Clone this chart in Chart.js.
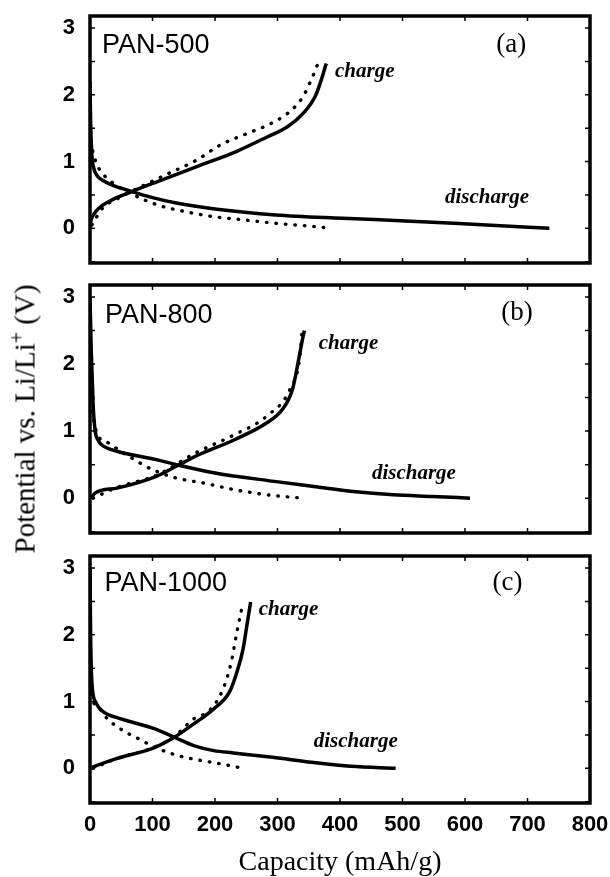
<!DOCTYPE html>
<html>
<head>
<meta charset="utf-8">
<script src="https://cdn.jsdelivr.net/npm/chart.js@4.4.0/dist/chart.umd.min.js"></script>
<style>
  body { margin: 0; background: #fff; }
  #wrap { position: relative; width: 610px; height: 877px; background: #fff; }
  canvas { position: absolute; left: 0; }
  #ytitle {
    position: absolute; left: 25px; top: 419px;
    transform: translate(-50%, -50%) rotate(-90deg);
    font: 29px "Liberation Serif", "Times New Roman", serif;
    white-space: nowrap; color: #000;
  }
  #ytitle sup { font-size: 20px; line-height: 0; }
</style>
</head>
<body>
<div id="wrap">
  <canvas id="pa" width="610" height="275" style="top:0px"></canvas>
  <canvas id="pb" width="610" height="270" style="top:275px"></canvas>
  <canvas id="pc" width="610" height="332" style="top:545px"></canvas>
  <div id="ytitle">Potential vs. Li/Li<sup>+</sup> (V)</div>
</div>
<script>
// tick values
var xTicks = [0, 100, 200, 300, 400, 500, 600, 700, 800];
var yTicks = [0, 1, 2, 3];

// PAN-500
var a_disCap = [0, 1, 3, 6, 12, 20, 35, 67, 100, 140, 203, 297, 404, 505, 612, 735];
var a_disV   = [2.2, 1.6, 1.1, 0.9, 0.78, 0.72, 0.65, 0.55, 0.46, 0.375, 0.285, 0.2, 0.15, 0.11, 0.06, 0.0];
var a_disDotCap = [1, 4, 10, 16, 35, 70, 108, 152, 197, 247, 297, 348, 386];
var a_disDotV   = [1.3, 1.17, 0.98, 0.87, 0.69, 0.5, 0.35, 0.25, 0.175, 0.125, 0.075, 0.035, 0.0];
var a_chgCap = [0, 2, 6, 14, 32, 67, 108, 171, 234, 285, 316, 341, 360, 370, 378];
var a_chgV   = [0.03, 0.13, 0.21, 0.3, 0.41, 0.55, 0.7, 0.925, 1.15, 1.375, 1.52, 1.72, 1.97, 2.22, 2.47];
var a_chgDotCap = [3, 20, 45, 70, 121, 171, 209, 253, 291, 323, 341, 354, 364];
var a_chgDotV   = [0.05, 0.3, 0.45, 0.57, 0.8, 1.025, 1.25, 1.425, 1.575, 1.775, 1.975, 2.225, 2.45];

// PAN-800
var b_disCap = [0, 2, 5, 8, 14, 21, 43, 106, 138, 200, 295, 358, 421, 485, 548, 608];
var b_disV   = [3.0, 2.2, 1.4, 1.02, 0.85, 0.78, 0.7, 0.575, 0.5, 0.375, 0.25, 0.175, 0.1, 0.05, 0.025, 0.0];
var b_disDotCap = [3, 11, 30, 62, 100, 138, 182, 232, 283, 340];
var b_disDotV   = [1.3, 0.97, 0.82, 0.625, 0.425, 0.3, 0.225, 0.125, 0.05, 0.0];
var b_chgCap = [2, 8, 43, 106, 138, 169, 232, 283, 308, 324, 333, 339, 343];
var b_chgV   = [0.0, 0.075, 0.15, 0.325, 0.475, 0.625, 0.875, 1.125, 1.325, 1.625, 2.025, 2.325, 2.5];
var b_chgDotCap = [5, 43, 106, 169, 232, 283, 320, 336, 339];
var b_chgDotV   = [0.0, 0.16, 0.34, 0.675, 0.95, 1.225, 1.625, 2.125, 2.475];

// PAN-1000
var c_disCap = [0, 1, 3, 9, 22, 41, 104, 135, 166, 198, 229, 292, 355, 417, 489];
var c_disV   = [3.0, 2.0, 1.29, 0.99, 0.84, 0.765, 0.59, 0.465, 0.34, 0.265, 0.23, 0.165, 0.09, 0.03, 0.0];
var c_disDotCap = [1, 3, 13, 28, 53, 78, 110, 141, 179, 210, 245];
var c_disDotV   = [1.4, 1.09, 0.915, 0.74, 0.565, 0.44, 0.29, 0.19, 0.115, 0.065, 0.0];
var c_chgCap = [3, 41, 104, 135, 166, 198, 223, 235, 245, 251, 257];
var c_chgV   = [0.015, 0.14, 0.315, 0.465, 0.665, 0.89, 1.14, 1.44, 1.79, 2.14, 2.49];
var c_chgDotCap = [5, 41, 104, 135, 166, 191, 213, 226, 235, 245];
var c_chgDotV   = [0.0, 0.14, 0.32, 0.48, 0.74, 0.865, 1.19, 1.59, 2.04, 2.49];

function pts(xs, ys) {
  return xs.map(function (x, i) { return { x: x, y: ys[i] }; });
}

function solid(xs, ys) {
  return {
    data: pts(xs, ys), showLine: true, pointRadius: 0,
    borderColor: '#000', borderWidth: 3.5, cubicInterpolationMode: 'monotone'
  };
}

function dotted(xs, ys) {
  return {
    data: pts(xs, ys), showLine: true, pointRadius: 0,
    borderColor: '#000', borderWidth: 3.4, borderDash: [0.5, 9],
    borderCapStyle: 'round', cubicInterpolationMode: 'monotone'
  };
}

// box + inward ticks + panel texts
var framePlugin = {
  id: 'frame',
  afterDraw: function (chart) {
    var ctx = chart.ctx, a = chart.chartArea;
    var xs = chart.scales.x, ys = chart.scales.y;
    ctx.save();
    ctx.strokeStyle = '#000';
    ctx.lineWidth = 1.5;
    xTicks.forEach(function (v) {
      var px = xs.getPixelForValue(v);
      ctx.beginPath();
      ctx.moveTo(px, a.bottom); ctx.lineTo(px, a.bottom - 5);
      ctx.moveTo(px, a.top); ctx.lineTo(px, a.top + 5);
      ctx.stroke();
    });
    for (var v = -0.5; v <= 3; v += 0.5) {
      var py = ys.getPixelForValue(v);
      ctx.beginPath();
      ctx.moveTo(a.left, py); ctx.lineTo(a.left + 5, py);
      ctx.moveTo(a.right, py); ctx.lineTo(a.right - 5, py);
      ctx.stroke();
    }
    ctx.lineWidth = 3.5;
    ctx.strokeRect(a.left, a.top, a.right - a.left, a.bottom - a.top);

    var p = chart.options.plugins.frame;
    ctx.fillStyle = '#000';
    ctx.textBaseline = 'middle';
    ctx.textAlign = 'left';
    ctx.font = '27px "Liberation Sans", Arial, sans-serif';
    ctx.fillText(p.name, xs.getPixelForValue(p.namePos[0]), ys.getPixelForValue(p.namePos[1]));
    ctx.textAlign = 'center';
    ctx.font = '27px "Liberation Serif", "Times New Roman", serif';
    ctx.fillText(p.tag, xs.getPixelForValue(p.tagPos[0]), ys.getPixelForValue(p.tagPos[1]));
    ctx.textAlign = 'left';
    ctx.font = 'italic bold 21px "Liberation Serif", "Times New Roman", serif';
    ctx.fillText('charge', xs.getPixelForValue(p.chgPos[0]), ys.getPixelForValue(p.chgPos[1]));
    ctx.fillText('discharge', xs.getPixelForValue(p.disPos[0]), ys.getPixelForValue(p.disPos[1]));
    ctx.restore();
  }
};

function makePanel(id, datasets, texts, padTop, xHeight, showX) {
  new Chart(document.getElementById(id), {
    type: 'scatter',
    data: { datasets: datasets },
    options: {
      responsive: false,
      animation: false,
      devicePixelRatio: 1,
      layout: { padding: { top: padTop, right: 20, left: 0, bottom: 0 } },
      plugins: { legend: { display: false }, tooltip: { enabled: false }, frame: texts },
      scales: {
        x: {
          type: 'linear', min: 0, max: 800,
          grid: { display: false, drawTicks: false },
          border: { display: false },
          ticks: {
            display: showX, color: '#000', padding: 9, maxRotation: 0, autoSkip: false,
            font: { family: '"Liberation Sans", Arial, sans-serif', size: 22, weight: 'bold' }
          },
          title: {
            display: showX, text: 'Capacity (mAh/g)', color: '#000', padding: 0,
            font: { family: '"Liberation Serif", "Times New Roman", serif', size: 28, lineHeight: 1 }
          },
          afterBuildTicks: function (s) { s.ticks = xTicks.map(function (v) { return { value: v }; }); },
          afterFit: function (s) {
            s.height = xHeight;
            s.paddingLeft = 0; s.paddingRight = 0; s.paddingTop = 0; s.paddingBottom = 0;
          }
        },
        y: {
          min: -0.52, max: 3.18,
          grid: { display: false, drawTicks: false },
          border: { display: false },
          ticks: {
            color: '#000', padding: 15,
            font: { family: '"Liberation Sans", Arial, sans-serif', size: 22, weight: 'bold' }
          },
          afterBuildTicks: function (s) { s.ticks = yTicks.map(function (v) { return { value: v }; }); },
          afterFit: function (s) {
            s.width = 90;
            s.paddingLeft = 0; s.paddingRight = 0; s.paddingTop = 0; s.paddingBottom = 0;
          }
        }
      }
    },
    plugins: [framePlugin]
  });
}

makePanel('pa', [
  solid(a_disCap, a_disV), dotted(a_disDotCap, a_disDotV),
  solid(a_chgCap, a_chgV), dotted(a_chgDotCap, a_chgDotV)
], { name: 'PAN-500', namePos: [19, 2.74], tag: '(a)', tagPos: [674, 2.74],
     chgPos: [392, 2.34], disPos: [568, 0.46] }, 16, 12, false);

makePanel('pb', [
  solid(b_disCap, b_disV), dotted(b_disDotCap, b_disDotV),
  solid(b_chgCap, b_chgV), dotted(b_chgDotCap, b_chgDotV)
], { name: 'PAN-800', namePos: [24, 2.73], tag: '(b)', tagPos: [683, 2.76],
     chgPos: [366, 2.31], disPos: [451, 0.36] }, 10, 12, false);

makePanel('pc', [
  solid(c_disCap, c_disV), dotted(c_disDotCap, c_disDotV),
  solid(c_chgCap, c_chgV), dotted(c_chgDotCap, c_chgDotV)
], { name: 'PAN-1000', namePos: [23, 2.77], tag: '(c)', tagPos: [668, 2.77],
     chgPos: [270, 2.37], disPos: [358, 0.40] }, 11, 74, true);
</script>
</body>
</html>
